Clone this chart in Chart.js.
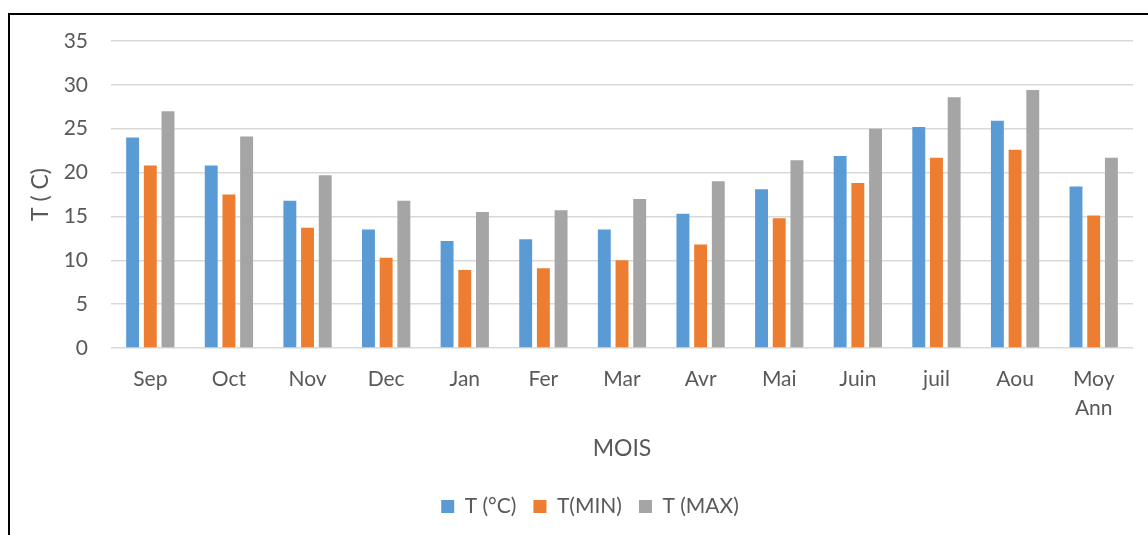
<!DOCTYPE html>
<html>
<head>
<meta charset="utf-8">
<script src="https://cdn.jsdelivr.net/npm/chart.js@4.4.1/dist/chart.umd.min.js"></script>
<style>
  html, body { margin: 0; padding: 0; background: #ffffff; }
  #wrap { position: relative; width: 1148px; height: 535px; overflow: hidden; }
  #frame {
    position: absolute; left: 8px; top: 13px; width: 1200px; height: 600px;
    border-top: 2px solid #000; border-left: 2px solid #000;
  }
  #chart { position: absolute; left: 0; top: 0; }
</style>
</head>
<body>
<div id="wrap">
  <div id="frame"></div>
  <canvas id="chart" width="1148" height="535"></canvas>
</div>
<script>
// Mois de l'année hydrologique + moyenne annuelle
const mois = ["Sep", "Oct", "Nov", "Dec", "Jan", "Fer", "Mar", "Avr", "Mai", "Juin", "juil", "Aou", ["Moy", "Ann"]];

// Températures (°C)
const tMoy = [24.0, 20.8, 16.8, 13.5, 12.2, 12.4, 13.5, 15.3, 18.1, 21.9, 25.2, 25.9, 18.4];
const tMin = [20.8, 17.5, 13.7, 10.3, 8.9, 9.1, 10.0, 11.8, 14.8, 18.8, 21.7, 22.6, 15.1];
const tMax = [27.0, 24.1, 19.7, 16.8, 15.5, 15.7, 17.0, 19.0, 21.4, 25.0, 28.6, 29.4, 21.7];

const serieNoms = ["T (°C)", "T(MIN)", "T (MAX)"];
const yTicks = [0, 5, 10, 15, 20, 25, 30, 35];

const textColor = "#595959";
const gridColor = "#d9d9d9";
const fontFamily = "Lato, 'Open Sans', sans-serif";

// Recentre la légende sous le graphique
const legendShift = {
  id: "legendShift",
  afterLayout(chart) {
    const lg = chart.legend;
    if (lg) { lg.left += 10; lg.right += 10; }
  }
};

new Chart(document.getElementById("chart"), {
  type: "bar",
  data: {
    labels: mois,
    datasets: [
      { label: serieNoms[0], data: tMoy, backgroundColor: "#5b9bd5" },
      { label: serieNoms[1], data: tMin, backgroundColor: "#ed7d31" },
      { label: serieNoms[2], data: tMax, backgroundColor: "#a5a5a5" }
    ]
  },
  options: {
    responsive: false,
    animation: false,
    devicePixelRatio: 1,
    datasets: { bar: { categoryPercentage: 0.675, barPercentage: 0.73 } },
    layout: { padding: { left: 27, right: 15, top: 41, bottom: 8 } },
    plugins: {
      tooltip: { enabled: false },
      legend: {
        position: "bottom",
        labels: {
          boxWidth: 13, boxHeight: 13, padding: 17,
          color: textColor,
          font: { family: fontFamily, size: 21 }
        }
      }
    },
    scales: {
      x: {
        grid: { display: false },
        border: { display: false },
        ticks: {
          color: textColor, padding: 9, maxRotation: 0, autoSkip: false,
          font: { family: fontFamily, size: 21, lineHeight: 1.37 }
        },
        title: {
          display: true, text: "MOIS", color: textColor,
          font: { family: fontFamily, size: 23 },
          padding: { top: 0, bottom: 17 }
        },
        afterFit(scale) { scale.height = 131; }
      },
      y: {
        min: 0, max: 35,
        afterBuildTicks(scale) { scale.ticks = yTicks.map(v => ({ value: v })); },
        grid: { color: gridColor, lineWidth: 1.5, drawTicks: false },
        border: { display: false },
        ticks: {
          color: textColor, padding: 23,
          font: { family: fontFamily, size: 21 }
        },
        title: {
          display: true, text: "T ( C)", color: textColor,
          font: { family: fontFamily, size: 23 },
          padding: { top: 0, bottom: 0 }
        },
        afterFit(scale) { scale.width = 84; }
      }
    }
  },
  plugins: [legendShift]
});
</script>
</body>
</html>
